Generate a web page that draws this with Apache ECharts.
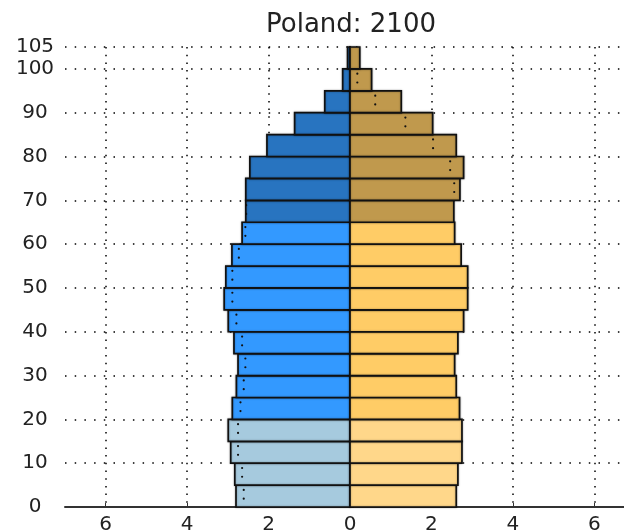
<!DOCTYPE html>
<html>
<head>
<meta charset="utf-8">
<title>Poland: 2100</title>
<script src="https://cdn.jsdelivr.net/npm/echarts@6/dist/echarts.min.js"></script>
<style>
  html, body { margin: 0; padding: 0; background: #fff; }
  #chart { width: 624px; height: 530px; }
</style>
</head>
<body>
<div id="chart"></div>
<script>
// start age of each 5-year group
const ageGroups = [0, 5, 10, 15, 20, 25, 30, 35, 40, 45, 50, 55, 60, 65, 70, 75, 80, 85, 90, 95, 100]
// share of population, % (male drawn to the left)
const maleShare = [2.80, 2.83, 2.93, 2.99, 2.89, 2.79, 2.75, 2.85, 2.99, 3.09, 3.05, 2.90, 2.65, 2.56, 2.56, 2.46, 2.04, 1.36, 0.62, 0.18, 0.06]
const femaleShare = [2.61, 2.65, 2.75, 2.75, 2.69, 2.61, 2.57, 2.65, 2.79, 2.89, 2.89, 2.73, 2.57, 2.55, 2.70, 2.79, 2.61, 2.03, 1.26, 0.53, 0.24]
const xTicks = [-6, -4, -2, 0, 2, 4, 6]
const yTicks = [0, 10, 20, 30, 40, 50, 60, 70, 80, 90, 100, 105]

const maleColors = ['#a6cade', '#3399ff', '#2874c0']
const femaleColors = ['#ffd78a', '#ffcc66', '#c0994d']
const font = 'DejaVu Sans'

function colorFor(colors, age) {
  if (age < 20) return colors[0]
  if (age < 65) return colors[1]
  return colors[2]
}

function barRender(colors) {
  return function (params, api) {
    const age = api.value(1)
    const top = api.coord([0, age + 5])
    const bottom = api.coord([api.value(0), age])
    return {
      type: 'rect',
      shape: {
        x: Math.min(top[0], bottom[0]),
        y: top[1],
        width: Math.abs(bottom[0] - top[0]),
        height: bottom[1] - top[1],
      },
      style: {
        fill: colorFor(colors, age),
        stroke: '#111',
        lineWidth: 1.7,
        shadowBlur: 2,
        shadowColor: 'rgba(0,0,0,0.35)',
      },
    }
  }
}

// dotted marker: the smaller sex mirrored onto the bigger side
function dotRender(params, api) {
  const age = api.value(0)
  const m = api.value(1)
  const f = api.value(2)
  const small = Math.min(m, f)
  if (small < 0.1) return null
  const x = m > f ? -small : small
  const a = api.coord([x, age + 3.9])
  const b = api.coord([x, age + 1.9])
  return {
    type: 'group',
    children: [
      { type: 'circle', shape: { cx: a[0], cy: a[1], r: 1.1 }, style: { fill: '#111' } },
      { type: 'circle', shape: { cx: b[0], cy: b[1], r: 1.1 }, style: { fill: '#111' } },
    ],
  }
}

const chart = echarts.init(document.getElementById('chart'))
chart.setOption({
  animation: false,
  title: {
    text: 'Poland: 2100',
    left: 346,
    top: 7,
    textAlign: 'center',
    textStyle: { fontFamily: font, fontSize: 26, fontWeight: 'normal', color: '#222' },
  },
  // plot runs past the right edge of the picture (x = 7 is clipped)
  grid: { left: 65, top: 47, width: 570, height: 460, outerBoundsMode: 'none', containLabel: false },
  xAxis: {
    type: 'value',
    min: -7,
    max: 7,
    axisLine: { onZero: false, lineStyle: { color: '#333', width: 2 } },
    axisTick: { show: true, inside: true, length: 4, customValues: xTicks, lineStyle: { color: '#333' } },
    axisLabel: {
      customValues: xTicks,
      margin: 8,
      fontFamily: font,
      fontSize: 20,
      color: '#222',
      formatter: v => String(Math.abs(v)),
    },
    splitLine: { show: true, lineStyle: { color: '#000', width: 1.5, type: [1.5, 6.2] } },
  },
  yAxis: {
    type: 'value',
    min: 0,
    max: 105,
    axisLine: { show: true, lineStyle: { color: '#111', width: 2 } },
    axisTick: { show: true, inside: true, length: 4, customValues: yTicks, lineStyle: { color: '#111' } },
    axisLabel: {
      customValues: yTicks,
      margin: 30,
      align: 'center',
      fontFamily: font,
      fontSize: 20,
      color: '#222',
    },
    splitLine: { show: true, lineStyle: { color: '#000', width: 1.5, type: [1.5, 8.2] } },
  },
  series: [
    {
      name: 'male',
      type: 'custom',
      renderItem: barRender(maleColors),
      data: ageGroups.map((a, i) => [-maleShare[i], a]),
      z: 3,
    },
    {
      name: 'female',
      type: 'custom',
      renderItem: barRender(femaleColors),
      data: ageGroups.map((a, i) => [femaleShare[i], a]),
      z: 3,
    },
    {
      name: 'mirror',
      type: 'custom',
      renderItem: dotRender,
      encode: { x: 1, y: 0 },
      data: ageGroups.map((a, i) => [a, maleShare[i], femaleShare[i]]),
      z: 4,
    },
  ],
})
</script>
</body>
</html>
